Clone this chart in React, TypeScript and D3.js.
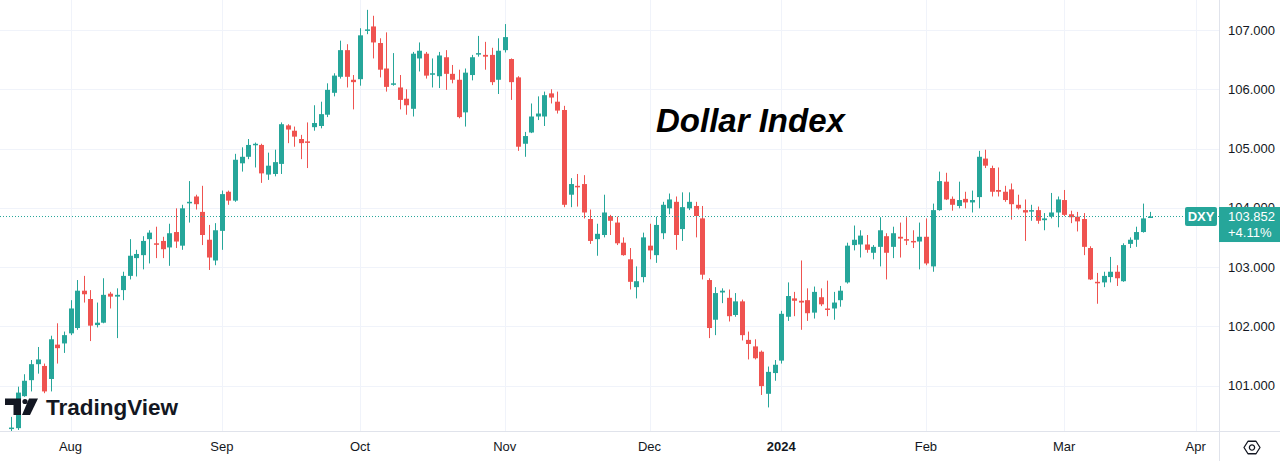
import React, { useEffect, useRef } from 'react';
import * as d3 from 'd3';

// daily DXY candles, mid-Jul 2023 .. 19 Mar 2024
const opens = [
  100.27, 100.28, 100.82, 101.09, 101.36, 101.33, 101.11, 101.69, 101.71, 101.88,
  101.97, 102.60, 102.46, 102.02, 102.06, 102.55, 102.50, 102.61, 102.85, 103.15,
  103.20, 103.47, 103.40, 103.44, 103.33, 103.59, 103.36, 104.09, 104.19, 103.93,
  103.46, 103.11, 103.61, 104.27, 104.12, 104.75, 104.86, 105.06, 105.06, 104.56,
  104.57, 104.74, 105.39, 105.30, 105.16, 105.12, 105.36, 105.38, 105.57, 105.94,
  106.21, 106.66, 106.16, 106.17, 107.00, 107.06, 106.78, 106.35, 106.09, 106.03,
  105.84, 105.67, 106.52, 106.60, 106.26, 106.22, 106.54, 106.26, 106.16, 105.61,
  106.24, 106.60, 106.58, 106.58, 106.16, 106.66, 106.51, 106.20, 105.08, 105.27,
  105.54, 105.54, 105.93, 105.79, 105.65, 104.22, 104.37, 104.40, 103.81, 103.47,
  103.54, 103.86, 103.75, 103.41, 103.13, 102.66, 102.83, 103.36, 103.20, 103.57,
  103.99, 104.10, 103.64, 103.99, 104.03, 103.82, 102.78, 102.11, 102.57, 102.48,
  102.19, 102.42, 101.77, 101.66, 101.57, 100.86, 101.21, 101.42, 102.16, 102.47,
  102.43, 102.44, 102.23, 102.49, 102.30, 102.30, 102.44, 102.74, 103.37, 103.38,
  103.38, 103.24, 103.34, 103.52, 103.34, 103.51, 103.47, 103.44, 103.43, 103.51,
  103.01, 103.96, 104.44, 104.15, 104.03, 104.15, 104.09, 104.18, 104.83, 104.67,
  104.30, 104.27, 104.31, 104.05, 103.96, 103.95, 103.96, 103.79, 103.85, 103.92,
  104.13, 103.89, 103.85, 103.81, 103.32, 102.75, 102.74, 102.83, 102.92, 102.76,
  103.39, 103.46, 103.59, 103.84
];
const highs = [
  100.47, 100.98, 101.19, 101.43, 101.65, 101.37, 101.84, 102.05, 101.91, 102.44,
  102.78, 102.85, 102.61, 102.40, 102.81, 102.58, 102.64, 102.92, 103.47, 103.29,
  103.52, 103.62, 103.68, 103.51, 103.73, 103.99, 104.05, 104.45, 104.22, 104.37,
  103.71, 103.74, 104.29, 104.29, 104.91, 105.02, 105.16, 105.10, 105.08, 104.93,
  104.98, 105.44, 105.41, 105.37, 105.23, 105.44, 105.73, 105.79, 106.10, 106.27,
  106.82, 106.76, 106.24, 107.03, 107.34, 107.24, 106.86, 106.96, 106.61, 106.24,
  106.00, 106.63, 106.79, 106.63, 106.52, 106.63, 106.66, 106.41, 106.33, 106.35,
  106.58, 106.90, 106.80, 106.70, 106.86, 107.10, 106.52, 106.22, 105.28, 105.76,
  105.88, 105.96, 106.00, 105.96, 105.72, 104.50, 104.57, 104.55, 103.97, 103.73,
  104.22, 103.88, 103.85, 103.50, 103.32, 103.01, 103.58, 103.73, 103.85, 104.10,
  104.24, 104.19, 104.26, 104.26, 104.10, 104.03, 102.81, 102.66, 102.64, 102.62,
  102.56, 102.45, 101.91, 101.78, 101.59, 101.32, 101.43, 102.26, 102.74, 102.58,
  103.11, 102.64, 102.67, 102.64, 102.77, 102.58, 102.68, 103.41, 103.70, 103.62,
  103.54, 103.37, 103.84, 103.57, 103.68, 103.75, 103.84, 103.62, 103.75, 103.82,
  104.07, 104.61, 104.59, 104.19, 104.44, 104.27, 104.29, 104.96, 104.98, 104.71,
  104.68, 104.37, 104.41, 104.22, 104.14, 104.05, 104.02, 103.91, 104.25, 104.19,
  104.30, 103.95, 103.93, 103.91, 103.35, 102.90, 102.92, 103.17, 103.03, 103.40,
  103.50, 103.68, 104.07, 103.93
];
const lows = [
  100.22, 100.25, 100.81, 100.90, 101.20, 100.87, 100.90, 101.37, 101.55, 101.85,
  101.94, 102.40, 101.75, 101.98, 102.05, 102.30, 101.80, 102.44, 102.79, 102.84,
  102.96, 103.06, 103.15, 103.15, 103.02, 103.32, 103.29, 103.75, 103.97, 103.37,
  102.95, 103.03, 103.29, 104.05, 104.10, 104.61, 104.82, 104.68, 104.42, 104.47,
  104.53, 104.57, 105.09, 105.03, 104.82, 104.67, 105.30, 105.34, 105.53, 105.88,
  106.18, 106.03, 105.66, 106.06, 106.93, 106.52, 106.20, 105.96, 106.06, 105.66,
  105.57, 105.54, 106.30, 106.18, 106.03, 106.02, 105.99, 106.10, 105.51, 105.37,
  106.15, 106.55, 106.33, 106.07, 105.92, 106.62, 105.82, 104.96, 104.86, 105.26,
  105.48, 105.38, 105.76, 105.59, 104.01, 104.01, 104.02, 103.82, 103.39, 103.19,
  103.50, 103.54, 103.37, 103.19, 102.62, 102.47, 102.74, 103.13, 103.07, 103.47,
  103.89, 103.29, 103.44, 103.96, 103.50, 102.79, 101.80, 101.85, 102.39, 102.08,
  102.16, 101.76, 101.44, 101.44, 100.84, 100.63, 101.08, 101.37, 102.09, 102.17,
  101.94, 102.09, 102.13, 102.34, 102.17, 102.11, 102.33, 102.72, 103.28, 103.16,
  103.24, 103.13, 103.01, 102.79, 103.15, 103.16, 103.37, 103.32, 102.96, 103.03,
  102.92, 103.95, 104.13, 103.95, 103.99, 103.99, 103.92, 103.99, 104.67, 104.19,
  104.19, 104.10, 103.80, 103.97, 103.44, 103.78, 103.73, 103.62, 103.82, 103.67,
  103.86, 103.74, 103.60, 103.20, 102.78, 102.38, 102.66, 102.74, 102.68, 102.75,
  103.32, 103.34, 103.58, 103.84
];
const closes = [
  100.29, 100.88, 101.08, 101.36, 101.44, 100.90, 101.78, 101.63, 101.85, 102.30,
  102.60, 102.54, 102.01, 102.06, 102.53, 102.50, 102.53, 102.85, 103.19, 103.22,
  103.44, 103.58, 103.38, 103.30, 103.57, 103.43, 103.99, 104.10, 104.06, 103.54,
  103.16, 103.62, 104.23, 104.12, 104.81, 104.86, 105.06, 105.08, 104.58, 104.71,
  104.77, 105.41, 105.32, 105.20, 105.09, 105.11, 105.43, 105.58, 105.99, 106.23,
  106.66, 106.21, 106.12, 106.91, 107.01, 106.79, 106.33, 106.04, 106.10, 105.82,
  105.73, 106.60, 106.65, 106.23, 106.27, 106.57, 106.26, 106.16, 105.53, 106.28,
  106.54, 106.61, 106.55, 106.12, 106.65, 106.88, 106.12, 105.03, 105.21, 105.54,
  105.59, 105.90, 105.86, 105.64, 104.05, 104.40, 104.36, 103.92, 103.44, 103.56,
  103.92, 103.78, 103.40, 103.20, 102.75, 102.76, 103.50, 103.28, 103.71, 104.05,
  104.14, 103.54, 104.01, 104.10, 103.86, 102.87, 101.97, 102.56, 102.60, 102.17,
  102.42, 101.85, 101.70, 101.46, 100.99, 101.23, 101.35, 102.21, 102.51, 102.43,
  102.40, 102.22, 102.58, 102.37, 102.29, 102.40, 102.60, 103.36, 103.46, 103.53,
  103.29, 103.34, 103.62, 103.24, 103.57, 103.48, 103.46, 103.43, 103.51, 103.06,
  103.96, 104.45, 104.14, 104.05, 104.13, 104.09, 104.13, 104.86, 104.71, 104.27,
  104.27, 104.13, 104.06, 103.99, 103.92, 103.96, 103.78, 103.82, 103.92, 104.14,
  103.88, 103.84, 103.77, 103.34, 102.79, 102.74, 102.85, 102.92, 102.81, 103.37,
  103.46, 103.59, 103.82, 103.852
];

const monthLabels = ['Aug', 'Sep', 'Oct', 'Nov', 'Dec', '2024', 'Feb', 'Mar', 'Apr'];
const monthBarIndex = [9, 32, 53, 75, 97, 117, 139, 160, 180];
const priceTicks = [101, 102, 103, 104, 105, 106, 107];

const lastPrice = 103.852;
const lastChange = '+4.11%';
const symbol = 'DXY';
const title = 'Dollar Index';

const UP = '#26a69a';
const DOWN = '#ef5350';

export default function App() {
  const svgRef = useRef<SVGSVGElement>(null);

  useEffect(() => {
    const width = 1280;
    const height = 461;
    const plotRight = 1219;
    const plotBottom = 431;

    const svg = d3.select(svgRef.current);
    svg.selectAll('*').remove();
    svg.attr('width', width).attr('height', height);

    const x = d3.scaleLinear().domain([0, 180]).range([11.3, 11.3 + 6.58 * 180]);
    const y = d3.scaleLinear().domain([101, 107]).range([385.5, 30]);

    svg.append('rect').attr('width', width).attr('height', height).attr('fill', '#ffffff');

    svg.append('defs').append('clipPath').attr('id', 'plot-clip')
      .append('rect').attr('x', 0).attr('y', 0).attr('width', plotRight).attr('height', plotBottom);

    // grid
    const grid = svg.append('g').attr('stroke', '#f0f3fa').attr('stroke-width', 1);
    grid.selectAll('.hg').data(priceTicks).enter().append('line')
      .attr('x1', 0).attr('x2', plotRight)
      .attr('y1', d => Math.round(y(d)) + 0.5).attr('y2', d => Math.round(y(d)) + 0.5);
    grid.selectAll('.vg').data(monthBarIndex).enter().append('line')
      .attr('y1', 0).attr('y2', plotBottom)
      .attr('x1', d => Math.round(x(d)) + 0.5).attr('x2', d => Math.round(x(d)) + 0.5);

    // title
    svg.append('text')
      .attr('x', 656).attr('y', 132)
      .style('font-family', '"Liberation Sans", Arial, sans-serif')
      .style('font-size', '33px').style('font-weight', 'bold').style('font-style', 'italic')
      .attr('fill', '#000')
      .text(title);

    // candles
    const idx = d3.range(opens.length);
    const plot = svg.append('g').attr('clip-path', 'url(#plot-clip)');
    const colorOf = (i: number) => (closes[i] >= opens[i] ? UP : DOWN);

    plot.selectAll('.wick').data(idx).enter().append('line')
      .attr('x1', i => Math.round(x(i)) + 0.5).attr('x2', i => Math.round(x(i)) + 0.5)
      .attr('y1', i => y(highs[i])).attr('y2', i => y(lows[i]))
      .attr('stroke', colorOf).attr('stroke-width', 1);

    plot.selectAll('.body').data(idx).enter().append('rect')
      .attr('x', i => Math.round(x(i)) - 2)
      .attr('width', 5)
      .attr('y', i => y(Math.max(opens[i], closes[i])))
      .attr('height', i => Math.max(1.5, Math.abs(y(opens[i]) - y(closes[i]))))
      .attr('fill', colorOf);

    // last price line
    svg.append('line')
      .attr('x1', 0).attr('x2', plotRight)
      .attr('y1', y(lastPrice)).attr('y2', y(lastPrice))
      .attr('stroke', UP).attr('stroke-width', 1).attr('stroke-dasharray', '1,2');

    // axes borders
    svg.append('line').attr('x1', 0).attr('x2', width)
      .attr('y1', plotBottom + 0.5).attr('y2', plotBottom + 0.5).attr('stroke', '#e0e3eb');
    svg.append('line').attr('x1', plotRight + 0.5).attr('x2', plotRight + 0.5)
      .attr('y1', 0).attr('y2', height).attr('stroke', '#e0e3eb');

    const axisFont = '"Liberation Sans", Arial, sans-serif';

    // price axis
    svg.append('g').selectAll('text').data(priceTicks).enter().append('text')
      .attr('x', 1228).attr('y', d => y(d)).attr('dy', '0.36em')
      .style('font-family', axisFont).style('font-size', '13px')
      .attr('fill', '#131722')
      .text(d => d3.format('.3f')(d));

    // time axis
    svg.append('g').selectAll('text').data(monthLabels).enter().append('text')
      .attr('x', (d, i) => x(monthBarIndex[i])).attr('y', 451)
      .attr('text-anchor', 'middle')
      .style('font-family', axisFont).style('font-size', '13px')
      .style('font-weight', d => (d === '2024' ? 'bold' : 'normal'))
      .attr('fill', '#131722')
      .text(d => d);

    // symbol + last price labels
    const ly = y(lastPrice);
    svg.append('rect').attr('x', 1185).attr('y', ly - 9.5).attr('width', 32).attr('height', 19)
      .attr('rx', 2).attr('fill', UP);
    svg.append('text').attr('x', 1201).attr('y', ly).attr('dy', '0.36em').attr('text-anchor', 'middle')
      .style('font-family', axisFont).style('font-size', '13px').style('font-weight', 'bold')
      .attr('fill', '#fff').text(symbol);
    svg.append('rect').attr('x', 1219).attr('y', ly - 9.5).attr('width', 61).attr('height', 35)
      .attr('fill', UP);
    svg.append('text').attr('x', 1228).attr('y', ly).attr('dy', '0.36em')
      .style('font-family', axisFont).style('font-size', '13px')
      .attr('fill', '#fff').text(d3.format('.3f')(lastPrice));
    svg.append('text').attr('x', 1228).attr('y', ly + 16).attr('dy', '0.36em')
      .style('font-family', axisFont).style('font-size', '13px')
      .attr('fill', '#fff').text(lastChange);

    // settings icon
    const gear = svg.append('g').attr('transform', 'translate(1252,447.5)')
      .attr('fill', 'none').attr('stroke', '#131722').attr('stroke-width', 1.3)
      .attr('stroke-linejoin', 'round');
    const hex = d3.range(6).map(k => {
      const a = (Math.PI / 3) * k;
      return [8 * Math.cos(a), 7.2 * Math.sin(a)] as [number, number];
    });
    gear.append('path').attr('d', d3.line()(hex) + 'Z');
    gear.append('circle').attr('r', 2.6);

    // TradingView watermark
    const logo = svg.append('g').attr('fill', '#131722');
    logo.append('path').attr('d', 'M5,398.5 H21 V415 H13.5 V405 H5 Z');
    logo.append('circle').attr('cx', 25).attr('cy', 401.5).attr('r', 2.6);
    logo.append('path').attr('d', 'M29,398.5 H38 L30,415 H22 Z');
    logo.append('text').attr('x', 46).attr('y', 415)
      .style('font-family', '"Liberation Sans", Arial, sans-serif')
      .style('font-size', '22.5px').style('font-weight', 'bold')
      .text('TradingView');
  }, []);

  return (
    <div style={{ position: 'fixed', left: 0, top: 0 }}>
      <svg ref={svgRef} style={{ display: 'block' }}></svg>
    </div>
  );
}
